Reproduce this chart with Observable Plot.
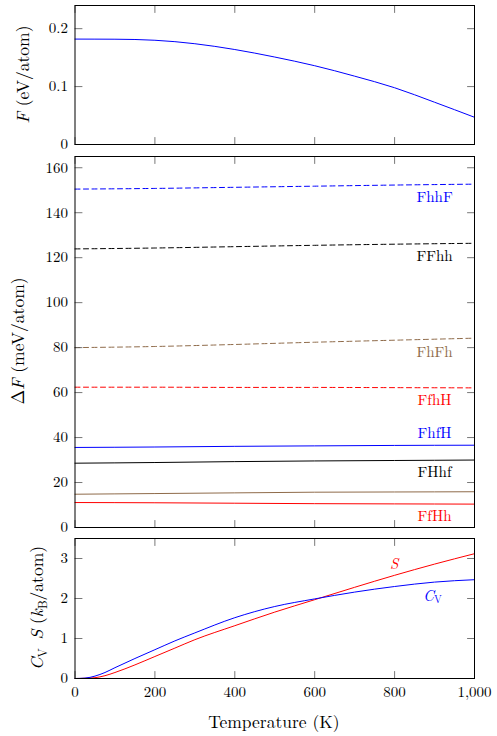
<!DOCTYPE html>
<html><head><meta charset="utf-8">
<script src="https://cdn.jsdelivr.net/npm/d3@7"></script>
<script src="https://cdn.jsdelivr.net/npm/@observablehq/plot@0.6"></script>
<style>
body{margin:0;background:#fff;}
#wrap{position:relative;width:497px;height:736px;}
#wrap svg{position:absolute;left:0;}
</style></head><body><div id="wrap"></div>
<script>
// ---------- data ----------
// panel 1: free energy F (eV/atom)
const tempF = [0, 100, 200, 300, 400, 500, 600, 700, 800, 900, 1000];
const freeEnergy = [0.182, 0.1818, 0.180, 0.174, 0.164, 0.151, 0.136, 0.118, 0.098, 0.073, 0.047];

// panel 2: ΔF (meV/atom)
const tempD = [0, 200, 400, 600, 800, 1000];
const dashedNames = ["FhhF", "FFhh", "FhFh", "FfhH"];
const dashedValues = [
  [150.5, 150.8, 151.3, 151.8, 152.3, 152.7],
  [123.9, 124.3, 124.9, 125.5, 126.0, 126.4],
  [80.0, 80.5, 81.4, 82.4, 83.3, 84.2],
  [62.4, 62.4, 62.3, 62.3, 62.2, 62.1]
];
const solidNames = ["FhfH", "FHhf", "brown", "FfHh", "ref"];
const solidValues = [
  [35.6, 35.8, 36.1, 36.3, 36.5, 36.6],
  [28.6, 28.9, 29.3, 29.6, 29.8, 30.0],
  [14.8, 15.1, 15.4, 15.7, 15.8, 15.9],
  [11.1, 11.0, 10.8, 10.6, 10.5, 10.4],
  [0, 0, 0, 0, 0, 0]
];
const labelNames = ["FhhF", "FFhh", "FhFh", "FfhH", "FhfH", "FHhf", "FfHh"];
const labelTemp = [900, 900, 900, 900, 900, 900, 900];
const labelValue = [146.7, 120.6, 78.1, 56.8, 41.8, 24.4, 5.2];

// panel 3: C_V and S (k_B/atom)
const tempC = [0, 25, 50, 75, 100, 150, 200, 250, 300, 400, 500, 600, 700, 800, 900, 1000];
const heatCapacity = [0, 0.01, 0.06, 0.15, 0.27, 0.50, 0.72, 0.94, 1.14, 1.52, 1.80, 1.99, 2.16, 2.30, 2.41, 2.47];
const entropy = [0, 0.005, 0.02, 0.07, 0.15, 0.34, 0.55, 0.76, 0.97, 1.32, 1.66, 1.97, 2.28, 2.58, 2.86, 3.12];
const curveLabelTemp = [799, 896];
const curveLabelValue = [2.87, 2.07];

// tick values
const xTicks = [0, 200, 400, 600, 800, 1000];
const yTicks1 = [0, 0.1, 0.2];
const yTicks2 = [0, 20, 40, 60, 80, 100, 120, 140, 160];
const yTicks3 = [0, 1, 2, 3];

// ---------- styles ----------
const FONT = "'Latin Modern Roman', 'Liberation Serif', serif";
const BROWN = "#8f6b4a";
const colorOf = {FhhF: "blue", FFhh: "black", FhFh: BROWN, FfhH: "red", FhfH: "blue", FHhf: "black", brown: BROWN, FfHh: "red", ref: "blue"};
const ML = 74.5, MR = 23, W = 497;
const TICK = "#555";
const TL = 7;
const TICKFS = 15, LABFS = 15, AXFS = 17.5;
const tickShape = {draw(context, l) { context.moveTo(0, 0); context.lineTo(0, -l); }};

function axes(yTicks, yFmt, xLabels) {
  const t = {length: TL, shape: tickShape, anchor: "start", stroke: TICK, strokeWidth: 0.8};
  const m = [
    Plot.vector(yTicks, {y: d => d, frameAnchor: "left", rotate: 90, ...t}),
    Plot.vector(yTicks, {y: d => d, frameAnchor: "right", rotate: -90, ...t}),
    Plot.vector(xTicks, {x: d => d, frameAnchor: "bottom", rotate: 0, ...t}),
    Plot.vector(xTicks, {x: d => d, frameAnchor: "top", rotate: 180, ...t}),
    Plot.frame({stroke: "black", strokeWidth: 1}),
    Plot.axisY(yTicks, {anchor: "left", tickSize: 0, tickPadding: 7, tickFormat: yFmt, label: null, fontSize: TICKFS})
  ];
  if (xLabels) m.push(Plot.axisX(xTicks, {anchor: "bottom", tickSize: 0, tickPadding: 8, tickFormat: d3.format(","), label: null, fontSize: TICKFS}));
  return m;
}

const wrap = document.getElementById("wrap");
function place(svg, top) { svg.style.top = top + "px"; wrap.appendChild(svg); return svg; }

function yLabel(svg, x, y, parts) {
  const t = d3.select(svg).append("text")
    .attr("transform", `translate(${x},${y}) rotate(-90)`)
    .attr("text-anchor", "middle").attr("dy", "0.35em")
    .attr("font-size", AXFS).attr("fill", "black");
  for (const p of parts) {
    const s = t.append("tspan").text(p.t);
    if (p.i) s.attr("font-style", "italic");
    if (p.sub) s.attr("font-size", AXFS * 0.7).attr("dy", 4);
    if (p.up) s.attr("dy", -4);
  }
}

// ---------- panel 1 ----------
const rows1 = tempF.map((T, i) => ({T, v: freeEnergy[i]}));
const svg1 = place(Plot.plot({
  width: W, height: 150, marginTop: 5, marginBottom: 6, marginLeft: ML, marginRight: MR,
  x: {domain: [0, 1000], label: null, axis: null},
  y: {domain: [0, 0.24], label: null},
  style: {background: "transparent", overflow: "visible"},
  marks: [
    Plot.line(rows1, {x: "T", y: "v", stroke: "blue", strokeWidth: 1, curve: "monotone-x"}),
    ...axes(yTicks1, d => String(d), false)
  ]
}), 0);
yLabel(svg1, 22.5, 74.5, [{t: "F", i: true}, {t: " (eV/atom)"}]);

// ---------- panel 2 ----------
const marks2 = [];
dashedNames.forEach((n, k) => {
  const rows = tempD.map((T, i) => ({T, v: dashedValues[k][i]}));
  marks2.push(Plot.line(rows, {x: "T", y: "v", stroke: colorOf[n], strokeWidth: 1, strokeDasharray: "5,3.5", curve: "monotone-x"}));
});
solidNames.forEach((n, k) => {
  const rows = tempD.map((T, i) => ({T, v: solidValues[k][i]}));
  marks2.push(Plot.line(rows, {x: "T", y: "v", stroke: colorOf[n], strokeWidth: 1, curve: "monotone-x"}));
});
const labels2 = labelNames.map((n, i) => ({n, T: labelTemp[i], v: labelValue[i]}));
marks2.push(Plot.text(labels2, {x: "T", y: "v", text: "n", fill: d => colorOf[d.n], fontSize: LABFS, textAnchor: "middle", lineAnchor: "middle"}));
const svg2 = place(Plot.plot({
  width: W, height: 382, marginTop: 6, marginBottom: 5, marginLeft: ML, marginRight: MR,
  x: {domain: [0, 1000], label: null, axis: null},
  y: {domain: [0, 165], label: null},
  color: {type: "identity"},
  style: {background: "transparent", overflow: "visible"},
  marks: [...marks2, ...axes(yTicks2, d => String(d), false)]
}), 150);
yLabel(svg2, 17.5, 191, [{t: "Δ"}, {t: "F", i: true}, {t: " (meV/atom)"}]);

// ---------- panel 3 ----------
const rowsC = tempC.map((T, i) => ({T, v: heatCapacity[i]}));
const rowsS = tempC.map((T, i) => ({T, v: entropy[i]}));
const sLab = [{T: curveLabelTemp[0], v: curveLabelValue[0]}];
const cLab = [{T: curveLabelTemp[1], v: curveLabelValue[1]}];
const svg3 = place(Plot.plot({
  width: W, height: 204, marginTop: 6, marginBottom: 58, marginLeft: ML, marginRight: MR,
  x: {domain: [0, 1000], label: null},
  y: {domain: [0, 3.5], label: null},
  style: {background: "transparent", overflow: "visible"},
  marks: [
    Plot.line(rowsS, {x: "T", y: "v", stroke: "red", strokeWidth: 1, curve: "monotone-x"}),
    Plot.line(rowsC, {x: "T", y: "v", stroke: "blue", strokeWidth: 1, curve: "monotone-x"}),
    Plot.text(sLab, {x: "T", y: "v", text: () => "S", fill: "red", fontSize: LABFS, fontStyle: "italic", textAnchor: "middle", lineAnchor: "middle"}),
    Plot.text(cLab, {x: "T", y: "v", text: () => "C", fill: "blue", fontSize: LABFS, fontStyle: "italic", textAnchor: "end", lineAnchor: "middle", dx: 1}),
    Plot.text(cLab, {x: "T", y: "v", text: () => "V", fill: "blue", fontSize: LABFS * 0.7, textAnchor: "start", lineAnchor: "middle", dx: 1, dy: 4}),
    ...axes(yTicks3, d => String(d), true)
  ]
}), 532);
yLabel(svg3, 37, 76, [{t: "C", i: true}, {t: "V", sub: true}, {t: "\u00a0"}, {t: "S", up: true, i: true}, {t: " ("}, {t: "k", i: true}, {t: "B", sub: true}, {t: "/atom)", up: true}]);
d3.select(svg3).append("text").attr("x", 274).attr("y", 190).attr("text-anchor", "middle")
  .attr("dy", "0.35em").attr("font-size", AXFS).attr("fill", "black").text("Temperature (K)");

// force the serif font on every svg and text
d3.selectAll("#wrap svg").attr("font-family", FONT).style("font-family", FONT);
d3.selectAll("#wrap text, #wrap tspan").style("font-family", FONT);
</script></body></html>
